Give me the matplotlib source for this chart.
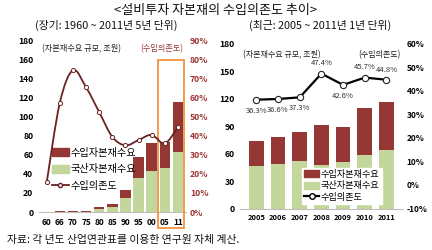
import matplotlib
matplotlib.use("Agg")
import matplotlib.pyplot as plt
from matplotlib.path import Path
from matplotlib.patches import PathPatch, Rectangle
from matplotlib.lines import Line2D
from matplotlib.patches import Patch

plt.rcParams['font.family'] = ['Noto Sans CJK KR', 'DejaVu Sans']

# ---- data: long-term (5-year) ----
lt_labels = ['60', '66', '70', '75', '80', '85', '90', '95', '00', '05', '11']
lt_total = [0.5, 0.7, 1.0, 1.2, 4.8, 8.3, 23.5, 57.5, 73.0, 73.5, 116.0]
lt_domestic = [0.2, 0.3, 0.3, 0.4, 2.8, 5.5, 15.0, 35.5, 43.5, 46.5, 63.5]
lt_dep = [15.7, 57.5, 74.5, 65.5, 52.5, 39.5, 35.0, 37.8, 40.5, 36.0, 44.5]

# ---- data: recent (1-year) ----
st_labels = ['2005', '2006', '2007', '2008', '2009', '2010', '2011']
st_total = [73.5, 78.0, 83.5, 91.5, 89.5, 109.5, 116.5]
st_domestic = [46.0, 49.0, 52.0, 48.0, 51.0, 59.0, 63.5]
st_dep = [36.3, 36.6, 37.3, 47.4, 42.6, 45.7, 44.8]
st_dep_labels = ['36.3%', '36.6%', '37.3%', '47.4%', '42.6%', '45.7%', '44.8%']

RED = '#953735'
GREEN = '#C3D69B'
MAROON = '#6A2222'
TXTRED = '#9E3535'
GRAY = '#BFBFBF'

lt_import = [t - d for t, d in zip(lt_total, lt_domestic)]
st_import = [t - d for t, d in zip(st_total, st_domestic)]

fig = plt.figure(figsize=(4.32, 2.5), dpi=100)

def style(ax):
    for s in ['top', 'left', 'right']:
        ax.spines[s].set_visible(False)
    ax.spines['bottom'].set_color(GRAY)
    ax.spines['bottom'].set_linewidth(0.8)
    ax.tick_params(length=0)

def smooth_path(xs, ys):
    verts = [(xs[0], ys[0])]
    codes = [Path.MOVETO]
    n = len(xs)
    for i in range(n - 1):
        x0, y0 = (xs[i - 1], ys[i - 1]) if i > 0 else (xs[i], ys[i])
        x1, y1 = xs[i], ys[i]
        x2, y2 = xs[i + 1], ys[i + 1]
        x3, y3 = (xs[i + 2], ys[i + 2]) if i + 2 < n else (x2, y2)
        c1 = (x1 + (x2 - x0) / 6.0, y1 + (y2 - y0) / 6.0)
        c2 = (x2 - (x3 - x1) / 6.0, y2 - (y3 - y1) / 6.0)
        verts += [c1, c2, (x2, y2)]
        codes += [Path.CURVE4] * 3
    return Path(verts, codes)

# ---------------- left chart ----------------
axL = fig.add_axes([0.090, 0.152, 0.340, 0.685])
xl = list(range(len(lt_labels)))
axL.bar(xl, lt_domestic, width=0.8, color=GREEN, zorder=2)
axL.bar(xl, lt_import, bottom=lt_domestic, width=0.8, color=RED, zorder=2)
axL.set_ylim(0, 180)
axL.set_yticks(range(0, 181, 20))
axL.set_xlim(-0.6, 10.6)
axL.set_xticks(xl)
axL.set_xticklabels(lt_labels)
style(axL)
axL.tick_params(axis='y', labelsize=6.2, pad=4)
axL.tick_params(axis='x', labelsize=6.0, pad=4)
for t in axL.get_xticklabels() + axL.get_yticklabels():
    t.set_fontweight('bold')

axL2 = axL.twinx()
axL2.set_ylim(0, 90)
axL2.set_yticks(range(0, 91, 10))
axL2.set_yticklabels([f'{v}%' for v in range(0, 91, 10)])
style(axL2)
axL2.spines['bottom'].set_visible(False)
axL2.tick_params(labelsize=6.2, labelcolor=TXTRED, pad=3)
for t in axL2.get_yticklabels():
    t.set_fontweight('bold')
axL2.add_patch(PathPatch(smooth_path(xl, lt_dep), fill=False, edgecolor=MAROON,
                         lw=1.3, zorder=3))
axL2.plot(xl, lt_dep, ls='none', marker='o', ms=3, mfc='white', mec=MAROON,
          mew=0.7, zorder=4)

axL.add_patch(Rectangle((8.45, -16.5), 2.0, 176.5, fill=False, edgecolor='#F08A2C',
                        lw=1.2, clip_on=False, zorder=5))

axL.text(0.02, 0.955, '(자본재수요 규모, 조원)', transform=axL.transAxes, fontsize=5.9,
         ha='left', va='center', color='#222222')
axL.text(0.985, 0.955, '(수입의존도)', transform=axL.transAxes, fontsize=5.9,
         ha='right', va='center', color=TXTRED)

hL = [Patch(color=RED), Patch(color=GREEN),
      Line2D([0], [0], color=MAROON, lw=1.3, marker='o', ms=3, mfc='white', mec=MAROON)]
axL.legend(hL, ['수입자본재수요', '국산자본재수요', '수입의존도'], loc='upper left',
           bbox_to_anchor=(0.05, 0.41), frameon=False, fontsize=7.3,
           handlelength=1.6, handleheight=0.8, handletextpad=0.2,
           labelspacing=0.65, borderpad=0.1)

# ---------------- right chart ----------------
axR = fig.add_axes([0.556, 0.166, 0.376, 0.658])
xs = list(range(len(st_labels)))
axR.bar(xs, st_domestic, width=0.68, color=GREEN, zorder=2)
axR.bar(xs, st_import, bottom=st_domestic, width=0.68, color=RED, zorder=2)
axR.set_ylim(0, 180)
axR.set_yticks(range(0, 181, 30))
axR.set_xlim(-0.75, 6.75)
axR.set_xticks(xs)
axR.set_xticklabels(st_labels)
style(axR)
axR.tick_params(axis='y', labelsize=6.2, pad=4)
axR.tick_params(axis='x', labelsize=5.4, pad=4)
for t in axR.get_xticklabels() + axR.get_yticklabels():
    t.set_fontweight('bold')

axR2 = axR.twinx()
axR2.set_ylim(-10, 60)
axR2.set_yticks(range(-10, 61, 10))
axR2.set_yticklabels([f'{v}%' for v in range(-10, 61, 10)])
style(axR2)
axR2.spines['bottom'].set_visible(False)
axR2.tick_params(labelsize=6.0, pad=3)
for t in axR2.get_yticklabels():
    t.set_fontweight('bold')
axR2.plot(xs, st_dep, color='black', lw=1.6, marker='o', ms=4.5, mfc='white',
          mec='#222222', mew=0.8, zorder=4)
below = [True, True, True, False, True, False, False]
for x, v, lab, b in zip(xs, st_dep, st_dep_labels, below):
    axR2.text(x, v + (-3.0 if b else 2.6), lab, ha='center',
              va='top' if b else 'bottom', fontsize=5.5, color='#333333')

axR.text(0.02, 0.935, '(자본재수요 규모, 조원)', transform=axR.transAxes, fontsize=5.8,
         ha='left', va='center', color='#222222')
axR.text(0.985, 0.935, '(수입의존도)', transform=axR.transAxes, fontsize=5.8,
         ha='right', va='center', color='#222222')

hR = [Patch(color=RED), Patch(color=GREEN),
      Line2D([0], [0], color='black', lw=1.6, marker='o', ms=4, mfc='white', mec='black')]
legR = axR.legend(hR, ['수입자본재수요', '국산자본재수요', '수입의존도'], loc='lower right',
                  bbox_to_anchor=(0.90, 0.0), frameon=True, fontsize=6.6,
                  handlelength=1.6, handleheight=0.8, handletextpad=0.2,
                  labelspacing=0.25, borderpad=0.25, fancybox=False)
legR.get_frame().set_edgecolor('white')
legR.get_frame().set_facecolor('white')
legR.get_frame().set_alpha(1)
legR.set_zorder(10)

# ---------------- titles / note ----------------
fig.text(0.5, 0.958, '<설비투자 자본재의 수입의존도 추이>', ha='center', va='center',
         fontsize=9.4, color='#111111')
fig.text(0.245, 0.898, '(장기: 1960 ~ 2011년 5년 단위)', ha='center', va='center',
         fontsize=7.8, color='#111111')
fig.text(0.740, 0.898, '(최근: 2005 ~ 2011년 1년 단위)', ha='center', va='center',
         fontsize=7.8, color='#111111')
fig.text(0.016, 0.040, '자료: 각 년도 산업연관표를 이용한 연구원 자체 계산.', ha='left',
         va='center', fontsize=7.8, color='#111111')

fig.savefig('out.png', dpi=100)
